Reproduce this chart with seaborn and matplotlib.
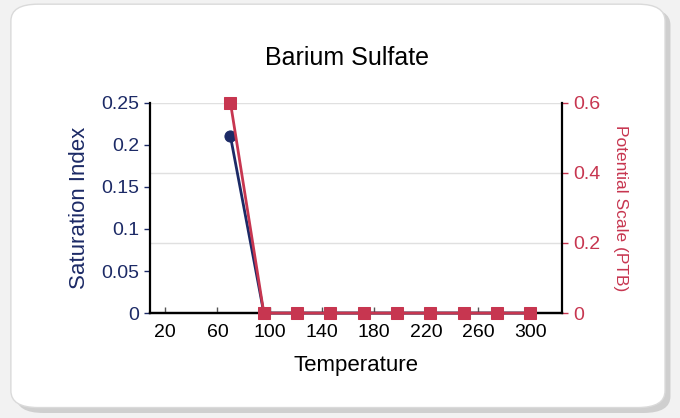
#!/usr/bin/env python3
import pandas as pd
import matplotlib
matplotlib.use("Agg")
import matplotlib.pyplot as plt
from matplotlib.patches import FancyBboxPatch
import seaborn as sns

# Values
temperature = [70, 95.6, 121.1, 146.7, 172.2, 197.8, 223.3, 248.9, 274.4, 300]
saturation_index = [0.21, 0, 0, 0, 0, 0, 0, 0, 0, 0]
potential_scale = [0.6, 0, 0, 0, 0, 0, 0, 0, 0, 0]
x_ticks = [20, 60, 100, 140, 180, 220, 260, 300]
left_ticks = [0, 0.05, 0.1, 0.15, 0.2, 0.25]
left_labels = ["0", "0.05", "0.1", "0.15", "0.2", "0.25"]
right_ticks = [0, 0.2, 0.4, 0.6]
right_labels = ["0", "0.2", "0.4", "0.6"]

NAVY = "#1c2a66"
RED = "#c73650"

sns.set_theme(style="white")
plt.rcParams['font.family'] = ['Liberation Sans', 'DejaVu Sans']

df = pd.DataFrame({
    'temperature': temperature,
    'si': saturation_index,
    'ptb': potential_scale,
})

fig = plt.figure(figsize=(6.8, 4.18), dpi=100)
fig.patch.set_facecolor("#f2f2f2")

# rounded white panel with a soft shadow
shadow = FancyBboxPatch((0.024, 0.012), 0.962, 0.968,
                        boxstyle="round,pad=0,rounding_size=0.04",
                        transform=fig.transFigure, facecolor="#cfcfcf",
                        edgecolor="none", zorder=-2)
panel = FancyBboxPatch((0.016, 0.025), 0.962, 0.965,
                       boxstyle="round,pad=0,rounding_size=0.04",
                       transform=fig.transFigure, facecolor="white",
                       edgecolor="#dadada", linewidth=1, zorder=-1)
fig.patches.extend([shadow, panel])

rect = [0.221, 0.251, 0.605, 0.503]

# bottom layer: right (PTB) axis with gridlines
ax2 = fig.add_axes(rect)
ax2.set_ylim(0, 0.6)
ax2.set_yticks(right_ticks)
ax2.set_yticklabels(right_labels)
ax2.yaxis.tick_right()
ax2.yaxis.set_label_position("right")
ax2.yaxis.grid(True, color="#e0e0e0", linewidth=1)
ax2.set_xticks([])
ax2.tick_params(axis='y', colors=RED, labelsize=14, length=4, width=1,
                direction='out', right=True, left=False, pad=4)
ax2.set_ylabel("Potential Scale (PTB)", fontsize=12.5, color=RED,
               rotation=270, labelpad=20)

# middle layer: Saturation Index (left axis)
ax = fig.add_axes(rect, zorder=1)
ax.patch.set_visible(False)
sns.lineplot(data=df, x='temperature', y='si', ax=ax, color=NAVY,
             marker='o', markersize=8, markeredgecolor=NAVY, linewidth=2,
             legend=False, clip_on=False)
ax.set_ylim(0, 0.25)
ax.set_yticks(left_ticks)
ax.set_yticklabels(left_labels)
ax.set_xticks(x_ticks)
ax.set_xticklabels([str(t) for t in x_ticks])
ax.tick_params(axis='y', colors=NAVY, labelsize=14, length=4, width=1,
               direction='out', left=True, pad=4)
ax.tick_params(axis='x', labelcolor="black", color="#555555", labelsize=14,
               length=4, width=1, direction='in', bottom=True, pad=8)
ax.set_xlabel("Temperature", fontsize=16, color="black", labelpad=10)
ax.set_ylabel("Saturation Index", fontsize=16, color=NAVY, labelpad=8)

# top layer: PTB series
ax3 = fig.add_axes(rect, zorder=2)
ax3.patch.set_visible(False)
sns.lineplot(data=df, x='temperature', y='ptb', ax=ax3, color=RED,
             marker='s', markersize=9, markeredgecolor=RED, linewidth=2,
             legend=False, clip_on=False)
ax3.set_ylim(0, 0.6)
ax3.axis('off')

for a in (ax, ax2, ax3):
    a.set_xlim(8.5, 324)

for a in (ax, ax2):
    for s in ('left', 'right', 'bottom', 'top'):
        a.spines[s].set_color("black")
        a.spines[s].set_linewidth(1.6)
    a.spines['top'].set_visible(False)
ax.spines['right'].set_visible(False)
ax2.spines['left'].set_visible(False)

fig.text(0.51, 0.861, "Barium Sulfate", ha='center', va='center',
         fontsize=18, color="black")

plt.savefig("out.png", dpi=100, facecolor=fig.get_facecolor())
